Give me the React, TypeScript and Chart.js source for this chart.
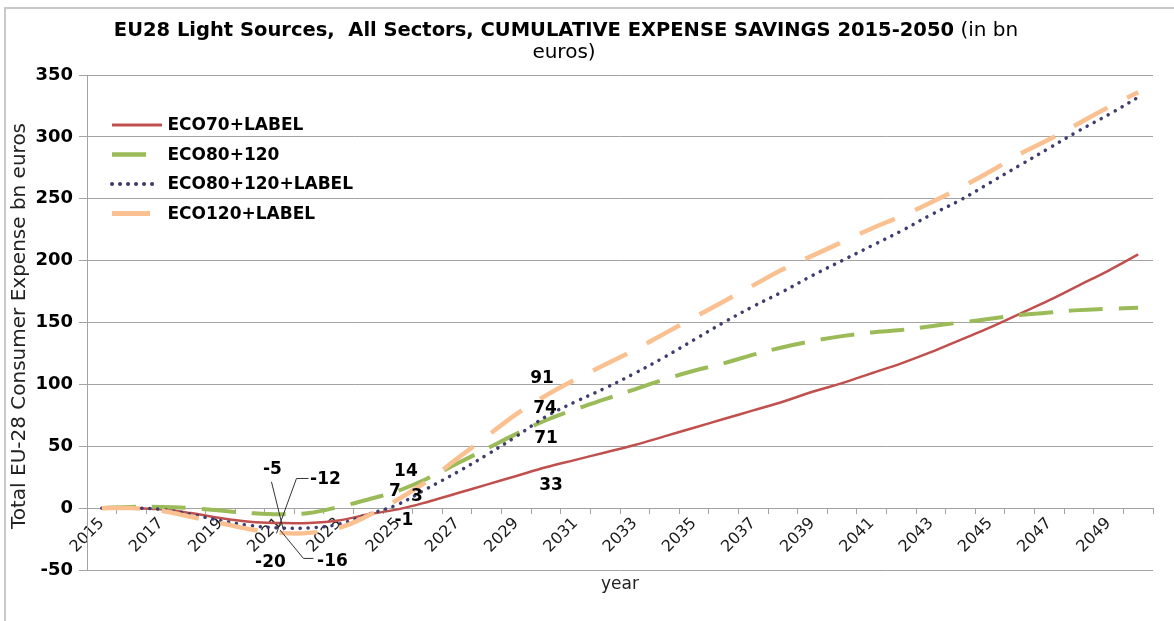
import React, { useEffect, useRef } from "react";
import { Chart, registerables } from "chart.js";

Chart.register(...registerables);

// ---------- data ----------
const years = [
  "2015", "2016", "2017", "2018", "2019", "2020", "2021", "2022", "2023", "2024",
  "2025", "2026", "2027", "2028", "2029", "2030", "2031", "2032", "2033", "2034",
  "2035", "2036", "2037", "2038", "2039", "2040", "2041", "2042", "2043", "2044",
  "2045", "2046", "2047", "2048", "2049", "2050",
];

const eco70Label = [
  0, 0, -1, -4, -8, -11, -12, -12, -10, -5,
  -1, 5, 12, 19, 26, 33, 39, 45, 51, 58,
  65, 72, 79, 86, 94, 101, 109, 117, 126, 136,
  146, 157, 168, 180, 192, 205,
];

const eco80_120 = [
  0, 1, 1, 0, -2, -4, -5, -4, 1, 7,
  14, 24, 36, 48, 60, 71, 80, 88, 96, 104,
  111, 117, 124, 130, 135, 139, 142, 144, 147, 150,
  153, 156, 158, 160, 161, 162,
];

const eco80_120Label = [
  0, 0, -1, -5, -10, -14, -16, -16, -13, -5,
  3, 16, 29, 43, 58, 74, 86, 97, 109, 122,
  136, 150, 163, 175, 188, 200, 212, 224, 237, 249,
  263, 277, 291, 305, 318, 332,
];

const eco120Label = [
  0, 0, -2, -7, -12, -17, -20, -20, -16, -6,
  7, 22, 40, 58, 76, 91, 104, 116, 128, 141,
  154, 167, 180, 193, 204, 215, 226, 236, 247, 259,
  272, 286, 298, 311, 324, 336,
];

const seriesNames = ["ECO70+LABEL", "ECO80+120", "ECO80+120+LABEL", "ECO120+LABEL"];
const yTickValues = [-50, 0, 50, 100, 150, 200, 250, 300, 350];

// data labels shown on the chart (series order: ECO70+LABEL, ECO80+120, ECO80+120+LABEL, ECO120+LABEL)
const labelYears = ["2021", "2025", "2030"];
const labels2021 = ["-12", "-5", "-16", "-20"];
const labels2025 = ["-1", "14", "3", "7"];
const labels2030 = ["33", "71", "74", "91"];

const titleBold = "EU28 Light Sources,  All Sectors, CUMULATIVE EXPENSE SAVINGS 2015-2050";
const titleNormal = " (in bn";
const titleLine2 = "euros)";
const yAxisTitle = "Total EU-28 Consumer Expense bn euros";
const xAxisTitle = "year";

// ---------- styling ----------
const colors = ["#C0504D", "#9BBB59", "#3F3D6E", "#FAC090"];
const dashes: number[][] = [[], [34, 16], [0.1, 7.9], [38, 22]];
const widths = [2.5, 4, 3.5, 4.5];
const caps = ["butt", "butt", "round", "butt"];
const legendLens = [50, 34, 48, 38];
const gridColor = "#A3A3A3";
const FONT = '"DejaVu Sans", Verdana, sans-serif';

// label offsets (px) relative to their data point, per year group, per series
const labelOffsets = [
  [[46, -43], [-7, -45], [53, 34], [-9, 30]],
  [[6, 11], [8, -19], [19, -8], [-3, -8]],
  [[5, 18], [0, 18], [-1, -8], [-4, -17]],
];
// leader lines (2021 group) relative to data point
const leaders2021: (number[][] | null)[] = [
  [[29, -44.5], [17, -44.5], [-3, 10.5]],
  [[-8, -32.5], [4, 16]],
  [[34, 30.5], [24, 30.5], [0.5, 2]],
  null,
];

export default function App() {
  const ref = useRef<HTMLCanvasElement>(null);

  useEffect(() => {
    const canvas = ref.current!;
    const series = [eco70Label, eco80_120, eco80_120Label, eco120Label];
    const datasets = series.map((d, i) => ({
      label: seriesNames[i],
      data: d,
      borderColor: colors[i],
      backgroundColor: colors[i],
      borderWidth: widths[i],
      borderDash: dashes[i],
      borderCapStyle: caps[i] as CanvasLineCap,
      pointRadius: 0,
      pointHoverRadius: 0,
      tension: 0.4,
      fill: false,
      order: 3 - i,
    }));

    const overlay = {
      id: "overlay",
      beforeDraw(chart: any) {
        const { ctx, width, height } = chart;
        ctx.save();
        ctx.fillStyle = "#fff";
        ctx.fillRect(0, 0, width, height);
        ctx.strokeStyle = "#C9C9C9";
        ctx.lineWidth = 2;
        ctx.strokeRect(5, 8, width + 40, height + 40);
        ctx.restore();
      },
      afterDraw(chart: any) {
        const { ctx, chartArea, scales } = chart;
        const xs = scales.x;
        const ys = scales.y;
        ctx.save();

        // title
        ctx.fillStyle = "#000";
        ctx.textBaseline = "alphabetic";
        ctx.textAlign = "left";
        const bFont = `bold 19.5px ${FONT}`;
        const nFont = `20px ${FONT}`;
        ctx.font = bFont;
        const wb = ctx.measureText(titleBold).width;
        ctx.font = nFont;
        const wn = ctx.measureText(titleNormal).width;
        const tcx = 566;
        const tx = tcx - (wb + wn) / 2;
        ctx.font = bFont;
        ctx.fillText(titleBold, tx, 36);
        ctx.font = nFont;
        ctx.fillText(titleNormal, tx + wb, 36);
        ctx.textAlign = "center";
        ctx.fillText(titleLine2, tcx - 2, 58);

        // axis titles
        ctx.fillStyle = "#222";
        ctx.font = `20px ${FONT}`;
        ctx.save();
        ctx.translate(20, 326);
        ctx.rotate(-Math.PI / 2);
        ctx.textAlign = "center";
        ctx.textBaseline = "middle";
        ctx.fillText(yAxisTitle, 0, 0);
        ctx.restore();
        ctx.font = `17px ${FONT}`;
        ctx.textAlign = "center";
        ctx.textBaseline = "middle";
        ctx.fillText(xAxisTitle, (chartArea.left + chartArea.right) / 2, 585);

        // legend
        const legX = chartArea.left + 25;
        const legY0 = chartArea.top + 50;
        for (let i = 0; i < 4; i++) {
          const y = legY0 + i * 29.5;
          ctx.save();
          ctx.strokeStyle = colors[i];
          ctx.lineWidth = widths[i] + 0.5;
          ctx.lineCap = caps[i] as CanvasLineCap;
          ctx.setLineDash(dashes[i]);
          ctx.beginPath();
          ctx.moveTo(legX, y);
          ctx.lineTo(legX + legendLens[i], y);
          ctx.stroke();
          ctx.restore();
          ctx.fillStyle = "#000";
          ctx.font = `bold 17px ${FONT}`;
          ctx.textAlign = "left";
          ctx.textBaseline = "middle";
          ctx.fillText(seriesNames[i], legX + 55.5, y + 1);
        }

        // data labels
        const groups = [labels2021, labels2025, labels2030];
        ctx.font = `bold 17px ${FONT}`;
        ctx.textAlign = "center";
        ctx.textBaseline = "middle";
        groups.forEach((texts, g) => {
          const idx = years.indexOf(labelYears[g]);
          const px = xs.getPixelForValue(idx);
          texts.forEach((t, s) => {
            const py = ys.getPixelForValue(series[s][idx]);
            const [dx, dy] = labelOffsets[g][s];
            if (g === 0 && leaders2021[s]) {
              const pts = leaders2021[s]!;
              ctx.strokeStyle = "#333";
              ctx.lineWidth = 1;
              ctx.setLineDash([]);
              ctx.beginPath();
              pts.forEach((p, k) => {
                if (k === 0) ctx.moveTo(px + p[0], py + p[1]);
                else ctx.lineTo(px + p[0], py + p[1]);
              });
              ctx.stroke();
            }
            ctx.fillStyle = "#000";
            ctx.fillText(t, px + dx, py + dy);
          });
        });
        ctx.restore();
      },
    };

    const chart = new Chart(canvas, {
      type: "line",
      data: { labels: years, datasets: datasets as any },
      options: {
        animation: false,
        responsive: false,
        devicePixelRatio: 1,
        layout: { padding: { top: 75, right: 21, bottom: 51, left: 0 } },
        plugins: {
          legend: { display: false },
          title: { display: false },
          tooltip: { enabled: false },
        },
        events: [],
        scales: {
          x: {
            type: "category",
            position: { y: 0 } as any,
            offset: true,
            grid: {
              offset: true,
              drawOnChartArea: false,
              drawTicks: true,
              tickLength: 5,
              color: gridColor,
            },
            border: { display: true, color: gridColor, width: 1 },
            ticks: {
              autoSkip: false,
              maxRotation: 45,
              minRotation: 45,
              padding: 1,
              color: "#1a1a1a",
              font: { family: FONT, size: 16 },
              callback: (_v: any, i: number) => (i % 2 === 0 ? years[i] : ""),
            },
          },
          y: {
            min: yTickValues[0],
            max: yTickValues[yTickValues.length - 1],
            afterBuildTicks: (s: any) => {
              s.ticks = yTickValues.map((v) => ({ value: v }));
            },
            afterFit: (s: any) => {
              s.width = 87;
            },
            grid: { color: gridColor, lineWidth: 1, tickLength: 8, drawTicks: true },
            border: { display: true, color: gridColor, width: 1 },
            ticks: {
              padding: 6,
              color: "#000",
              font: { family: FONT, size: 18, weight: "bold" },
            },
          },
        },
      },
      plugins: [overlay],
    });
    return () => chart.destroy();
  }, []);

  return (
    <div style={{ position: "fixed", left: 0, top: 0, width: 1174, height: 621, background: "#fff" }}>
      <canvas ref={ref} width={1174} height={621} style={{ display: "block" }} />
    </div>
  );
}
